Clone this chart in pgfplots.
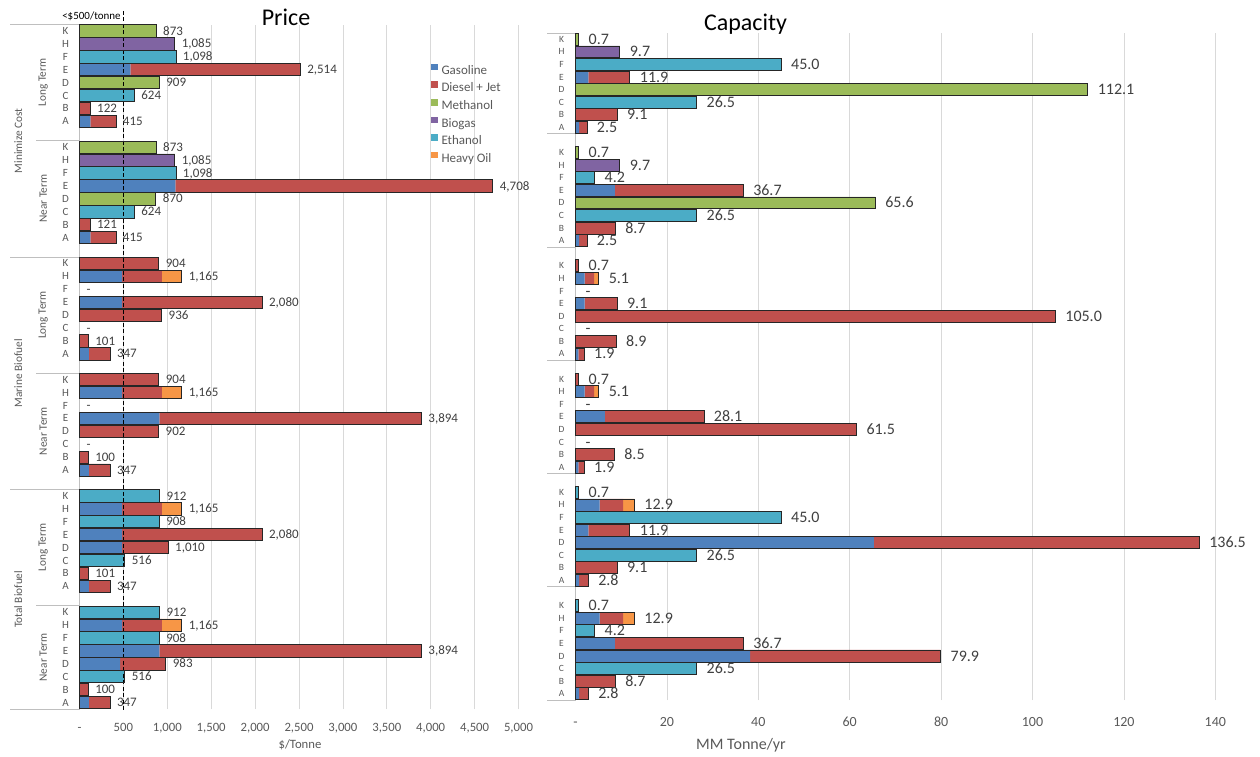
\documentclass[border=0pt]{standalone}
\usepackage{fontspec}
\setmainfont{Carlito}
\usepackage{pgfplots}
\usepackage{pgfplotstable}
\pgfplotsset{compat=1.18}
\definecolor{cGas}{HTML}{4F81BD}
\definecolor{cDsl}{HTML}{C0504D}
\definecolor{cMeth}{HTML}{9BBB59}
\definecolor{cBio}{HTML}{8064A2}
\definecolor{cEth}{HTML}{4BACC6}
\definecolor{cHvy}{HTML}{F79646}
\definecolor{txt}{HTML}{595959}
\definecolor{lbl}{HTML}{404040}
\definecolor{gridc}{HTML}{D9D9D9}
\definecolor{axl}{HTML}{BFBFBF}
\definecolor{outl}{HTML}{262626}
\newcommand\fs[1]{\fontsize{#1}{#1}\selectfont}

\pgfplotstableread{
y gas dsl meth bio eth hvy tot lab
0 0 0 873 0 0 0 873 873
-1 0 0 0 1085 0 0 1085 1,085
-2 0 0 0 0 1098 0 1098 1,098
-3 580 1934 0 0 0 0 2514 2,514
-4 0 0 909 0 0 0 909 909
-5 0 0 0 0 624 0 624 624
-6 0 122 0 0 0 0 122 122
-7 125 290 0 0 0 0 415 415
-9 0 0 873 0 0 0 873 873
-10 0 0 0 1085 0 0 1085 1,085
-11 0 0 0 0 1098 0 1098 1,098
-12 1091 3617 0 0 0 0 4708 4,708
-13 0 0 870 0 0 0 870 870
-14 0 0 0 0 624 0 624 624
-15 0 121 0 0 0 0 121 121
-16 125 290 0 0 0 0 415 415
-18 0 904 0 0 0 0 904 904
-19 485 454 0 0 0 226 1165 1,165
-20 0 0 0 0 0 0 0 -
-21 485 1595 0 0 0 0 2080 2,080
-22 0 936 0 0 0 0 936 936
-23 0 0 0 0 0 0 0 -
-24 0 101 0 0 0 0 101 101
-25 106 241 0 0 0 0 347 347
-27 0 904 0 0 0 0 904 904
-28 485 454 0 0 0 226 1165 1,165
-29 0 0 0 0 0 0 0 -
-30 909 2985 0 0 0 0 3894 3,894
-31 0 902 0 0 0 0 902 902
-32 0 0 0 0 0 0 0 -
-33 0 100 0 0 0 0 100 100
-34 106 241 0 0 0 0 347 347
-36 0 0 0 0 912 0 912 912
-37 485 454 0 0 0 226 1165 1,165
-38 0 0 0 0 908 0 908 908
-39 485 1595 0 0 0 0 2080 2,080
-40 485 525 0 0 0 0 1010 1,010
-41 0 0 0 0 516 0 516 516
-42 0 101 0 0 0 0 101 101
-43 106 241 0 0 0 0 347 347
-45 0 0 0 0 912 0 912 912
-46 485 454 0 0 0 226 1165 1,165
-47 0 0 0 0 908 0 908 908
-48 909 2985 0 0 0 0 3894 3,894
-49 462 521 0 0 0 0 983 983
-50 0 0 0 0 516 0 516 516
-51 0 100 0 0 0 0 100 100
-52 106 241 0 0 0 0 347 347
}\pricetab

\pgfplotstableread{
y gas dsl meth bio eth hvy tot lab
0 0 0 0.7 0 0 0 0.7 0.7
-1 0 0 0 9.7 0 0 9.7 9.7
-2 0 0 0 0 45.0 0 45.0 45.0
-3 2.8 9.1 0 0 0 0 11.9 11.9
-4 0 0 112.1 0 0 0 112.1 112.1
-5 0 0 0 0 26.5 0 26.5 26.5
-6 0 9.1 0 0 0 0 9.1 9.1
-7 0.8 1.7 0 0 0 0 2.5 2.5
-9 0 0 0.7 0 0 0 0.7 0.7
-10 0 0 0 9.7 0 0 9.7 9.7
-11 0 0 0 0 4.2 0 4.2 4.2
-12 8.6 28.1 0 0 0 0 36.7 36.7
-13 0 0 65.6 0 0 0 65.6 65.6
-14 0 0 0 0 26.5 0 26.5 26.5
-15 0 8.7 0 0 0 0 8.7 8.7
-16 0.8 1.7 0 0 0 0 2.5 2.5
-18 0 0.7 0 0 0 0 0.7 0.7
-19 2.0 2.1 0 0 0 1.0 5.1 5.1
-20 0 0 0 0 0 0 0 -
-21 2.0 7.1 0 0 0 0 9.1 9.1
-22 0 105.0 0 0 0 0 105.0 105.0
-23 0 0 0 0 0 0 0 -
-24 0 8.9 0 0 0 0 8.9 8.9
-25 0.6 1.3 0 0 0 0 1.9 1.9
-27 0 0.7 0 0 0 0 0.7 0.7
-28 2.0 2.1 0 0 0 1.0 5.1 5.1
-29 0 0 0 0 0 0 0 -
-30 6.4 21.7 0 0 0 0 28.1 28.1
-31 0 61.5 0 0 0 0 61.5 61.5
-32 0 0 0 0 0 0 0 -
-33 0 8.5 0 0 0 0 8.5 8.5
-34 0.6 1.3 0 0 0 0 1.9 1.9
-36 0 0 0 0 0.7 0 0.7 0.7
-37 5.3 5.1 0 0 0 2.5 12.9 12.9
-38 0 0 0 0 45.0 0 45.0 45.0
-39 2.8 9.1 0 0 0 0 11.9 11.9
-40 65.3 71.2 0 0 0 0 136.5 136.5
-41 0 0 0 0 26.5 0 26.5 26.5
-42 0 9.1 0 0 0 0 9.1 9.1
-43 0.8 2.0 0 0 0 0 2.8 2.8
-45 0 0 0 0 0.7 0 0.7 0.7
-46 5.3 5.1 0 0 0 2.5 12.9 12.9
-47 0 0 0 0 4.2 0 4.2 4.2
-48 8.6 28.1 0 0 0 0 36.7 36.7
-49 38.2 41.7 0 0 0 0 79.9 79.9
-50 0 0 0 0 26.5 0 26.5 26.5
-51 0 8.7 0 0 0 0 8.7 8.7
-52 0.8 2.0 0 0 0 0 2.8 2.8
}\captab

\pgfplotsset{
  base/.style={scale only axis, clip=false, anchor=north west, ymin=-52.5, ymax=0.5, xmin=0},
  leftgeom/.style={base, at={(79.5pt,-24.5pt)}, width=439pt, height=684.5pt, xmax=5000},
  rightgeom/.style={base, at={(575.5pt,-33pt)}, width=662.65pt, height=667pt, xmax=145},
  visaxis/.style={
    axis x line*=bottom, axis y line*=left,
    x axis line style={draw=none},
    y axis line style={-, draw=axl, line width=0.8pt},
    major tick length=0pt, tick style={draw=none},
    xmajorgrids, grid style={draw=gridc, line width=0.8pt},
    ytick={0,-1,-2,-3,-4,-5,-6,-7,-9,-10,-11,-12,-13,-14,-15,-16,-18,-19,-20,-21,-22,-23,-24,-25,-27,-28,-29,-30,-31,-32,-33,-34,-36,-37,-38,-39,-40,-41,-42,-43,-45,-46,-47,-48,-49,-50,-51,-52},
    yticklabels={K,H,F,E,D,C,B,A,K,H,F,E,D,C,B,A,K,H,F,E,D,C,B,A,K,H,F,E,D,C,B,A,K,H,F,E,D,C,B,A,K,H,F,E,D,C,B,A},
    yticklabel style={text=txt, anchor=center, xshift=-14pt},
  },
}

\begin{document}
\begin{tikzpicture}
\useasboundingbox (0,0) rectangle (1260pt,-756pt);

% ---------------- PRICE ----------------
\begin{axis}[leftgeom, visaxis, xbar stacked, bar width=0.95,
  xtick={0,500,...,5000},
  xticklabels={{-},{500},{1,000},{1,500},{2,000},{2,500},{3,000},{3,500},{4,000},{4,500},{5,000}},
  xticklabel style={text=txt, font=\fs{12.7}, text height=8pt, text depth=0pt, yshift=-10.7pt},
  yticklabel style={font=\fs{11}},
  legend cell align=left,
  legend image code/.code={\fill[#1] (0pt,0.5pt) rectangle (6.6pt,7.1pt);},
  legend style={at={(0.800,0.943)}, anchor=north west, draw=none, fill=none, inner sep=0pt,
    font=\fs{13}, text=txt, row sep=5pt, column sep=4pt,
    nodes={inner sep=0pt, text height=9pt, text depth=2pt}},
]
\draw[black, line width=1.2pt, dash pattern=on 4pt off 2.5pt] (axis cs:500,1.55) -- (axis cs:500,-52.73);
\addplot[fill=cGas, draw=none] table[x=gas, y=y] {\pricetab};
\addlegendentry{Gasoline}
\addplot[fill=cDsl, draw=none] table[x=dsl, y=y] {\pricetab};
\addlegendentry{Diesel + Jet}
\addplot[fill=cMeth, draw=none] table[x=meth, y=y] {\pricetab};
\addlegendentry{Methanol}
\addplot[fill=cBio, draw=none] table[x=bio, y=y] {\pricetab};
\addlegendentry{Biogas}
\addplot[fill=cEth, draw=none] table[x=eth, y=y] {\pricetab};
\addlegendentry{Ethanol}
\addplot[fill=cHvy, draw=none] table[x=hvy, y=y] {\pricetab};
\addlegendentry{Heavy Oil}
% group separators
\draw[axl, line width=0.8pt] (axis cs:0,0.5) -- ++(-69.5pt,0pt);
\draw[axl, line width=0.8pt] (axis cs:0,-17.5) -- ++(-69.5pt,0pt);
\draw[axl, line width=0.8pt] (axis cs:0,-35.5) -- ++(-69.5pt,0pt);
\draw[axl, line width=0.8pt] (axis cs:0,-52.5) -- ++(-69.5pt,0pt);
\draw[axl, line width=0.8pt] (axis cs:0,-8.5) -- ++(-43.5pt,0pt);
\draw[axl, line width=0.8pt] (axis cs:0,-26.5) -- ++(-43.5pt,0pt);
\draw[axl, line width=0.8pt] (axis cs:0,-44.5) -- ++(-43.5pt,0pt);
% group labels
\path (axis cs:0,-4) ++(-36.2pt,0pt) node[rotate=90, font=\fs{11.3}, text=txt] {Long Term};
\path (axis cs:0,-13) ++(-36.2pt,0pt) node[rotate=90, font=\fs{11.3}, text=txt] {Near Term};
\path (axis cs:0,-22) ++(-36.2pt,0pt) node[rotate=90, font=\fs{11.3}, text=txt] {Long Term};
\path (axis cs:0,-31) ++(-36.2pt,0pt) node[rotate=90, font=\fs{11.3}, text=txt] {Near Term};
\path (axis cs:0,-40) ++(-36.2pt,0pt) node[rotate=90, font=\fs{11.3}, text=txt] {Long Term};
\path (axis cs:0,-48.5) ++(-36.2pt,0pt) node[rotate=90, font=\fs{11.3}, text=txt] {Near Term};
\path (axis cs:0,-8.5) ++(-61.2pt,0pt) node[rotate=90, font=\fs{11.3}, text=txt] {Minimize Cost};
\path (axis cs:0,-26.5) ++(-61.2pt,0pt) node[rotate=90, font=\fs{11.3}, text=txt] {Marine Biofuel};
\path (axis cs:0,-44) ++(-61.2pt,0pt) node[rotate=90, font=\fs{11.3}, text=txt] {Total Biofuel};
\path (axis cs:500,1.16) ++(-2.5pt,0pt) node[anchor=east, inner sep=0pt, font=\fs{11}, text=black] {<\$500/tonne};
\end{axis}

\begin{axis}[leftgeom, hide axis, xbar, bar width=0.95, bar shift=0pt]
\addplot[fill=none, draw=outl, line width=0.8pt, x filter/.expression={x==0 ? nan : x}] table[x=tot, y=y] {\pricetab};
\addplot[draw=none, fill=none, point meta=explicit symbolic, nodes near coords,
  every node near coord/.append style={anchor=west, xshift=3.5pt, font=\fs{13}, text=lbl, text height=8.2pt, text depth=0pt}]
  table[x=tot, y=y, meta=lab] {\pricetab};
\end{axis}

% ---------------- CAPACITY ----------------
\begin{axis}[rightgeom, visaxis, xbar stacked, bar width=0.95,
  xtick={0,20,...,140},
  xticklabels={{-},20,40,60,80,100,120,140},
  xticklabel style={text=txt, font=\fs{14}, text height=8.85pt, text depth=0pt, yshift=-13.9pt},
  yticklabel style={font=\fs{9.5}},
]
\addplot[fill=cGas, draw=none] table[x=gas, y=y] {\captab};
\addplot[fill=cDsl, draw=none] table[x=dsl, y=y] {\captab};
\addplot[fill=cMeth, draw=none] table[x=meth, y=y] {\captab};
\addplot[fill=cBio, draw=none] table[x=bio, y=y] {\captab};
\addplot[fill=cEth, draw=none] table[x=eth, y=y] {\captab};
\addplot[fill=cHvy, draw=none] table[x=hvy, y=y] {\captab};
\draw[axl, line width=0.8pt] (axis cs:0,0.5) -- ++(-28.5pt,0pt);
\draw[axl, line width=0.8pt] (axis cs:0,-7.5) -- ++(-28.5pt,0pt);
\draw[axl, line width=0.8pt] (axis cs:0,-16.5) -- ++(-28.5pt,0pt);
\draw[axl, line width=0.8pt] (axis cs:0,-25.5) -- ++(-28.5pt,0pt);
\draw[axl, line width=0.8pt] (axis cs:0,-34.5) -- ++(-28.5pt,0pt);
\draw[axl, line width=0.8pt] (axis cs:0,-43.5) -- ++(-28.5pt,0pt);
\draw[axl, line width=0.8pt] (axis cs:0,-52.5) -- ++(-28.5pt,0pt);
\end{axis}

\begin{axis}[rightgeom, hide axis, xbar, bar width=0.95, bar shift=0pt]
\addplot[fill=none, draw=outl, line width=0.8pt, x filter/.expression={x==0 ? nan : x}] table[x=tot, y=y] {\captab};
\addplot[draw=none, fill=none, point meta=explicit symbolic, nodes near coords,
  every node near coord/.append style={anchor=west, xshift=6.5pt, font=\fs{16}, text=lbl, text height=10.1pt, text depth=0pt}]
  table[x=tot, y=y, meta=lab] {\captab};
\end{axis}

% titles and axis titles
\node[font=\fs{24}, text=black] at (286pt,-17pt) {Price};
\node[font=\fs{24}, text=black] at (745.5pt,-24pt) {Capacity};
\node[font=\fs{12.7}, text=txt] at (300pt,-745pt) {\$/Tonne};
\node[font=\fs{16}, text=txt] at (741pt,-745pt) {MM Tonne/yr};
\end{tikzpicture}
\end{document}
